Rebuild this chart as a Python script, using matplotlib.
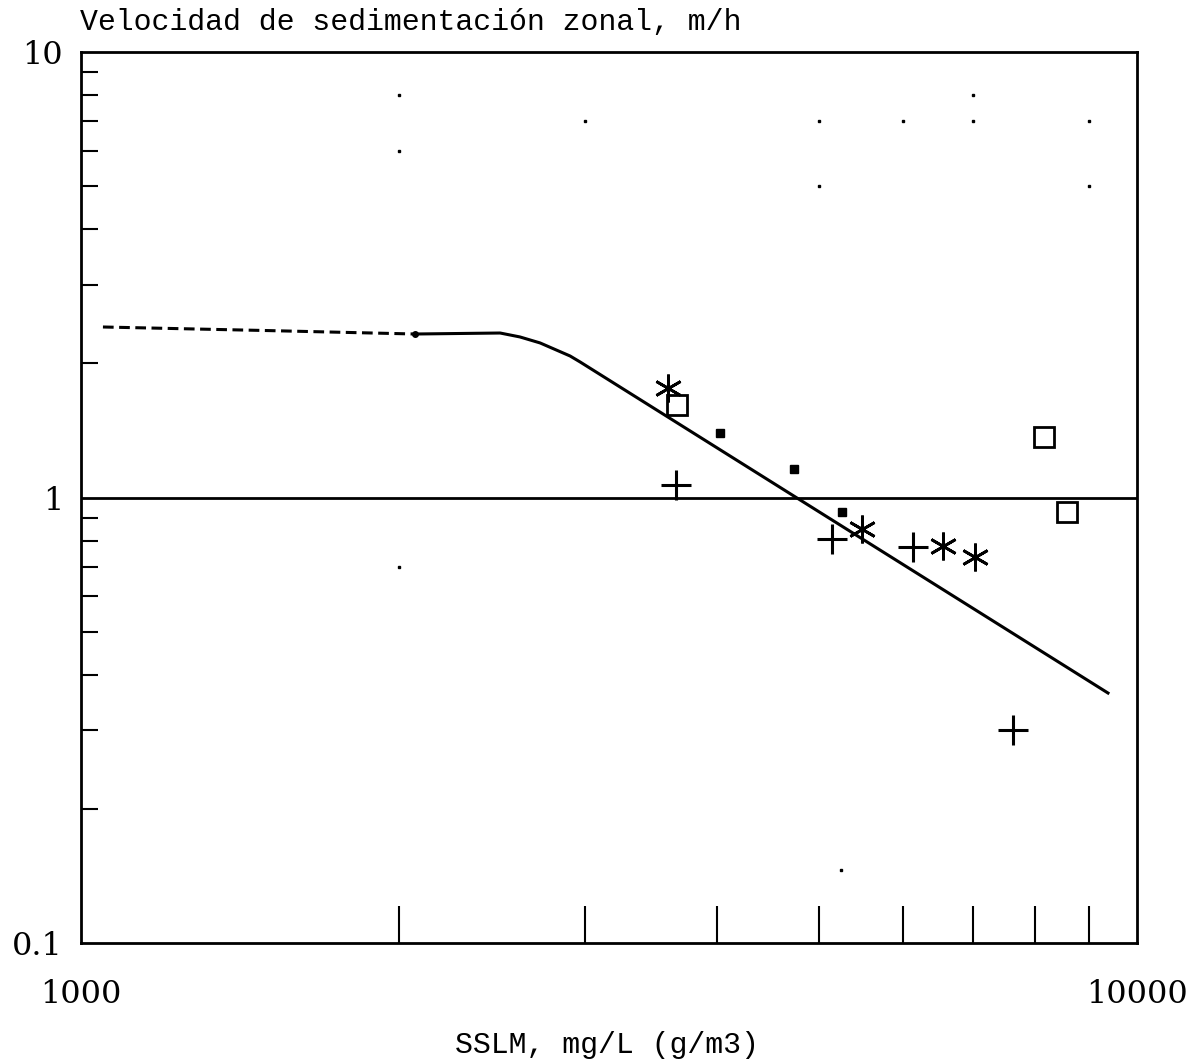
import matplotlib
matplotlib.use("Agg")
import matplotlib.pyplot as plt
from matplotlib.ticker import FixedLocator, NullFormatter, FixedFormatter

# ---- data ----
dash_x = [1049, 1500, 2071]
dash_y = [2.414, 2.37, 2.328]
curve_x = [2071, 2494, 2604, 2721, 2905, 2969, 9387]
curve_y = [2.328, 2.340, 2.293, 2.223, 2.078, 2.015, 0.364]
line_dot_x = [2071]
line_dot_y = [2.328]

star_x = [3597, 5491, 6550, 7025]
star_y = [1.761, 0.850, 0.778, 0.735]
square_x = [3667, 8166, 8585]
square_y = [1.613, 1.367, 0.928]
plus_x = [3659, 5142, 6136, 7631]
plus_y = [1.067, 0.807, 0.774, 0.301]
small_sq_x = [4028, 4733, 5255]
small_sq_y = [1.396, 1.159, 0.928]

speck_x = [2000, 2000, 3000, 5000, 6000, 7000, 7000, 9000, 5000, 9000, 2000, 5250]
speck_y = [8.0, 6.0, 7.0, 7.0, 7.0, 8.0, 7.0, 7.0, 5.0, 5.0, 0.7, 0.146]

ref_y = 1.0
x_ticks = [1000, 10000]
x_tick_labels = ["1000", "10000"]
y_ticks = [0.1, 1, 10]
y_tick_labels = ["0.1", "1", "10"]
title = "Velocidad de sedimentación zonal, m/h"
xlabel = "SSLM, mg/L (g/m3)"

font = ["DejaVu Serif"]
label_font = ["Liberation Mono", "DejaVu Sans Mono"]

fig = plt.figure(figsize=(12.04, 10.63), dpi=100)
ax = fig.add_axes([81/1204, 120/1063, (1137-81)/1204, (943-52)/1063])
ax.set_xscale("log")
ax.set_yscale("log")
ax.set_xlim(1000, 10000)
ax.set_ylim(0.1, 10)

ax.plot(dash_x, dash_y, color="black", lw=2.2, ls=(0, (3.5, 1.8)))
ax.plot(curve_x, curve_y, color="black", lw=2.2)
ax.plot(line_dot_x, line_dot_y, "o", color="black", ms=4)
ax.axhline(ref_y, color="black", lw=2)

ax.plot(star_x, star_y, ls="none", marker=(6, 2, 0), ms=20, mew=2, color="black")
ax.plot(square_x, square_y, ls="none", marker="s", ms=15, mew=2, mfc="none", mec="black")
ax.plot(plus_x, plus_y, ls="none", marker="+", ms=22, mew=2.2, color="black")
ax.plot(small_sq_x, small_sq_y, ls="none", marker="s", ms=6, color="black")
ax.plot(speck_x, speck_y, ls="none", marker="s", ms=1.5, color="black")

for s in ax.spines.values():
    s.set_linewidth(2)

ax.xaxis.set_major_locator(FixedLocator(x_ticks))
ax.xaxis.set_major_formatter(FixedFormatter(x_tick_labels))
ax.yaxis.set_major_locator(FixedLocator(y_ticks))
ax.yaxis.set_major_formatter(FixedFormatter(y_tick_labels))
ax.xaxis.set_minor_locator(FixedLocator([2000, 3000, 4000, 5000, 6000, 7000, 8000, 9000]))
ax.yaxis.set_minor_locator(FixedLocator([0.2, 0.3, 0.4, 0.5, 0.6, 0.7, 0.8, 0.9,
                                         2, 3, 4, 5, 6, 7, 8, 9]))
ax.xaxis.set_minor_formatter(NullFormatter())
ax.yaxis.set_minor_formatter(NullFormatter())

ax.tick_params(axis="x", which="major", length=0, pad=26, labelsize=23)
ax.tick_params(axis="y", which="major", length=0, pad=13, labelsize=23)
ax.tick_params(axis="x", which="minor", direction="in", length=27, width=1.5, top=False)
ax.tick_params(axis="y", which="minor", direction="in", length=12, width=1.5, right=False)
for lab in ax.get_xticklabels() + ax.get_yticklabels():
    lab.set_family(font)

fig.text(80/1204, 1 - 22/1063, title, ha="left", va="center", fontsize=21.5, family=label_font)
fig.text(607/1204, 1 - 1045/1063, xlabel, ha="center", va="center", fontsize=21.5, family=label_font)

fig.savefig("out.png", dpi=100)
